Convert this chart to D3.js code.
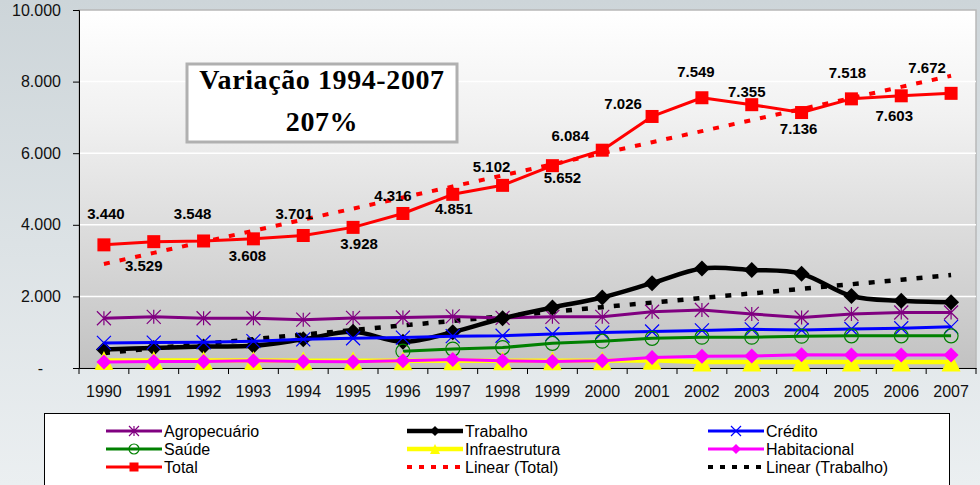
<!DOCTYPE html>
<html>
<head>
<meta charset="utf-8">
<script src="https://cdn.jsdelivr.net/npm/d3@7"></script>
<style>
  html, body { margin: 0; padding: 0; background: #e4e9ec; }
  svg { display: block; }
</style>
</head>
<body>
<svg id="chart" width="980" height="485"></svg>
<script>
// ---------------- DATA ----------------
const years = ["1990","1991","1992","1993","1994","1995","1996","1997","1998","1999",
               "2000","2001","2002","2003","2004","2005","2006","2007"];
const agropecuario = [1390,1430,1390,1390,1350,1400,1410,1440,1400,1430,1430,1570,1620,1510,1410,1510,1550,1550];
const trabalho     = [520,560,600,620,800,1010,730,1000,1390,1690,1970,2370,2780,2740,2630,2010,1880,1840];
const credito      = [700,710,720,750,800,830,850,890,900,950,990,1020,1050,1080,1060,1090,1110,1150];
const saude        = [null,null,null,null,null,null,470,530,570,690,750,830,860,860,890,900,900,900];
const infraestrutura = [210,210,210,210,205,205,205,205,205,205,205,215,165,165,165,165,165,165];
const habitacional = [165,185,185,200,180,175,200,240,200,180,200,290,330,335,370,365,365,365];
const total        = [3440,3529,3548,3608,3701,3928,4316,4851,5102,5652,6084,7026,7549,7355,7136,7518,7603,7672];
const yTicks = [0,2000,4000,6000,8000,10000];
const titleLines = ["Variação 1994-2007", "207%"];

// ---------------- LAYOUT ----------------
// label nudges (dx, dy in px) relative to each Total point, as placed in the original
const labelNudge = [[2,-31],[-10,24],[-11,-27],[-6,17],[-9,-22],[6,16],[-10,-18],[1,14],[-11,-19],
                    [10,12],[-32,-14],[-29,-13],[-6,-26],[-5,-13],[-3,16],[-4,-26],[-7,20],[-24,-26]];

const svg = d3.select("#chart");
const W = 980, H = 485;
const plot = {left: 79, right: 976, top: 10, bottom: 368};

const defs = svg.append("defs");
const bgGrad = defs.append("linearGradient").attr("id","bgGrad").attr("x1",0).attr("y1",0).attr("x2",0).attr("y2",1);
bgGrad.append("stop").attr("offset","0%").attr("stop-color","#cdd5d9");
bgGrad.append("stop").attr("offset","100%").attr("stop-color","#ebeff1");
const plotGrad = defs.append("linearGradient").attr("id","plotGrad").attr("x1",0).attr("y1",0).attr("x2",0).attr("y2",1);
plotGrad.append("stop").attr("offset","0%").attr("stop-color","#ffffff");
plotGrad.append("stop").attr("offset","30%").attr("stop-color","#f1f1f1");
plotGrad.append("stop").attr("offset","100%").attr("stop-color","#c2c2c2");

svg.append("rect").attr("width",W).attr("height",H).attr("fill","url(#bgGrad)");
svg.append("rect").attr("x",plot.left).attr("y",plot.top)
  .attr("width",plot.right-plot.left).attr("height",plot.bottom-plot.top)
  .attr("fill","url(#plotGrad)").attr("stroke","#b8b8b8").attr("stroke-width",1.5);

const x = d3.scaleBand().domain(years).range([plot.left, plot.right]);
const cx = d => x(d) + x.bandwidth()/2;
const y = d3.scaleLinear().domain([0,10000]).range([plot.bottom, plot.top]);

const locale = d3.formatLocale({decimal:",", thousands:".", grouping:[3], currency:["R$",""]});
const fmt = locale.format(",");

// gridlines
svg.append("g").selectAll("line").data(yTicks.filter(d => d>0 && d<10000)).join("line")
  .attr("x1",plot.left).attr("x2",plot.right)
  .attr("y1",d=>y(d)).attr("y2",d=>y(d))
  .attr("stroke","#ffffff").attr("stroke-width",1.5);

// y axis
const yAxis = svg.append("g").attr("transform",`translate(${plot.left},0)`)
  .call(d3.axisLeft(y).tickValues(yTicks).tickSize(6).tickPadding(12)
        .tickFormat(d => d===0 ? "-" : fmt(d)));
yAxis.select(".domain").attr("stroke","#000");
yAxis.selectAll(".tick line").attr("stroke","#000");
yAxis.selectAll("text").attr("font-family","'Liberation Sans', Arial, sans-serif")
  .attr("font-size",16).attr("fill","#111");
yAxis.selectAll(".tick").filter(d=>d===0).select("text").attr("x",-36);

// x axis
const xAxis = svg.append("g").attr("transform",`translate(0,${plot.bottom})`)
  .call(d3.axisBottom(x).tickSize(0).tickPadding(18));
xAxis.select(".domain").attr("stroke","#000");
xAxis.selectAll("text").attr("font-family","'Liberation Sans', Arial, sans-serif")
  .attr("font-size",16).attr("fill","#111");
svg.append("g").selectAll("line").data(years.concat(["end"])).join("line")
  .attr("x1",d=> d==="end" ? plot.right : x(d)).attr("x2",d=> d==="end" ? plot.right : x(d))
  .attr("y1",plot.bottom).attr("y2",plot.bottom+6)
  .attr("stroke","#000").attr("stroke-width",1);

// ---------------- trendlines ----------------
function linReg(vals){
  const pts = vals.map((v,i)=>[i+1,v]).filter(p=>p[1]!=null);
  const mx = d3.mean(pts,p=>p[0]), my = d3.mean(pts,p=>p[1]);
  const sxy = d3.sum(pts,p=>(p[0]-mx)*(p[1]-my));
  const sxx = d3.sum(pts,p=>(p[0]-mx)*(p[0]-mx));
  const b = sxy/sxx, a = my - b*mx;
  return i => a + b*(i+1);
}
const line = d3.line().defined(d=>d.v!=null).x(d=>cx(d.k)).y(d=>y(d.v));
const toPts = arr => years.map((k,i)=>({k, v: arr[i]}));

const trendTotal = linReg(total), trendTrab = linReg(trabalho);
const trendLayer = svg.append("g");
trendLayer.append("path").datum(years.map((k,i)=>({k, v: trendTrab(i)})))
  .attr("d",line).attr("fill","none").attr("stroke","#000").attr("stroke-width",4.5)
  .attr("stroke-dasharray","6,10");
trendLayer.append("path").datum(years.map((k,i)=>({k, v: trendTotal(i)})))
  .attr("d",line).attr("fill","none").attr("stroke","#ff0000").attr("stroke-width",4)
  .attr("stroke-dasharray","6,10");

// ---------------- markers ----------------
function drawMarker(g, type, color, s){
  const h = s/2;
  if(type==="star"){
    g.append("path").attr("d",`M${-h},${-h}L${h},${h}M${-h},${h}L${h},${-h}M0,${-h}L0,${h}`)
      .attr("stroke",color).attr("stroke-width",1.2).attr("fill","none");
  } else if(type==="x"){
    g.append("path").attr("d",`M${-h},${-h}L${h},${h}M${-h},${h}L${h},${-h}`)
      .attr("stroke",color).attr("stroke-width",1.2).attr("fill","none");
  } else if(type==="circle"){
    g.append("circle").attr("r",h).attr("fill","none").attr("stroke",color).attr("stroke-width",1.2);
  } else if(type==="diamond"){
    g.append("path").attr("d",`M0,${-h}L${h},0L0,${h}L${-h},0Z`).attr("fill",color);
  } else if(type==="triangle"){
    g.append("path").attr("d",`M0,${-h}L${h},${h}L${-h},${h}Z`).attr("fill",color);
  } else if(type==="square"){
    g.append("rect").attr("x",-h).attr("y",-h).attr("width",s).attr("height",s).attr("fill",color);
  }
}

const series = [
  {name:"Agropecuário", data:agropecuario, color:"#800080", width:3, marker:"star", size:14},
  {name:"Trabalho", data:trabalho, color:"#000000", width:4.5, marker:"diamond", size:16, smooth:true},
  {name:"Crédito", data:credito, color:"#0000ff", width:3, marker:"x", size:14},
  {name:"Saúde", data:saude, color:"#008000", width:3, marker:"circle", size:14},
  {name:"Infraestrutura", data:infraestrutura, color:"#ffff00", width:4.5, marker:"triangle", size:19},
  {name:"Habitacional", data:habitacional, color:"#ff00ff", width:3, marker:"diamond", size:15},
  {name:"Total", data:total, color:"#ff0000", width:3, marker:"square", size:13}
];

series.forEach(s=>{
  const g = svg.append("g");
  const ln = d3.line().defined(d=>d.v!=null).x(d=>cx(d.k)).y(d=>y(d.v));
  if(s.smooth) ln.curve(d3.curveCatmullRom.alpha(0));
  g.append("path").datum(toPts(s.data)).attr("d",ln).attr("fill","none")
    .attr("stroke",s.color).attr("stroke-width",s.width).attr("stroke-linejoin","round");
  toPts(s.data).filter(d=>d.v!=null).forEach(d=>{
    const mg = g.append("g").attr("transform",`translate(${cx(d.k)},${y(d.v)})`);
    drawMarker(mg, s.marker, s.color, s.size);
  });
});

// data labels for Total
svg.append("g").selectAll("text").data(toPts(total)).join("text")
  .attr("x",(d,i)=>cx(d.k)+labelNudge[i][0])
  .attr("y",(d,i)=>y(d.v)+labelNudge[i][1])
  .attr("dy","0.35em")
  .attr("text-anchor","middle")
  .attr("font-family","'Liberation Sans', Arial, sans-serif")
  .attr("font-weight","bold").attr("font-size",15).attr("fill","#000")
  .text(d=>fmt(d.v));

// ---------------- title box ----------------
const tb = svg.append("g");
tb.append("rect").attr("x",187).attr("y",64).attr("width",270).attr("height",78)
  .attr("fill","#ffffff").attr("stroke","#b0b0b0").attr("stroke-width",3);
tb.selectAll("text").data(titleLines).join("text")
  .attr("x",322).attr("y",(d,i)=> i===0 ? 89 : 131)
  .attr("text-anchor","middle")
  .attr("font-family","'Liberation Serif', 'Times New Roman', serif")
  .attr("font-weight","bold").attr("font-size",28).attr("letter-spacing",0.6).attr("fill","#000")
  .text(d=>d);

// ---------------- legend ----------------
const legendItems = [
  {name:"Agropecuário", color:"#800080", marker:"star", width:3},
  {name:"Trabalho", color:"#000000", marker:"diamond", width:4.5},
  {name:"Crédito", color:"#0000ff", marker:"x", width:3},
  {name:"Saúde", color:"#008000", marker:"circle", width:3},
  {name:"Infraestrutura", color:"#ffff00", marker:"triangle", width:4.5},
  {name:"Habitacional", color:"#ff00ff", marker:"diamond", width:3},
  {name:"Total", color:"#ff0000", marker:"square", width:3},
  {name:"Linear (Total)", color:"#ff0000", dash:true, width:4},
  {name:"Linear (Trabalho)", color:"#000000", dash:true, width:4}
];
const lg = svg.append("g");
lg.append("rect").attr("x",44.5).attr("y",413.5).attr("width",905).attr("height",80)
  .attr("fill","#ffffff").attr("stroke","#000").attr("stroke-width",1);
const colX = [106, 407, 708];
const rowY = [431, 449, 467];
legendItems.forEach((it,i)=>{
  const c = i%3, r = Math.floor(i/3);
  const g = lg.append("g").attr("transform",`translate(${colX[c]},${rowY[r]})`);
  g.append("line").attr("x1",0).attr("x2",56).attr("y1",0).attr("y2",0)
    .attr("stroke",it.color).attr("stroke-width",it.width)
    .attr("stroke-dasharray", it.dash ? "5,7" : null);
  if(!it.dash){
    const mg = g.append("g").attr("transform","translate(28,0)");
    drawMarker(mg, it.marker, it.color, it.marker==="square" ? 9 : 10);
  }
  g.append("text").attr("x",58).attr("y",0).attr("dy","0.35em")
    .attr("font-family","'Liberation Sans', Arial, sans-serif")
    .attr("font-size",16).attr("fill","#000").text(it.name);
});
</script>
</body>
</html>
